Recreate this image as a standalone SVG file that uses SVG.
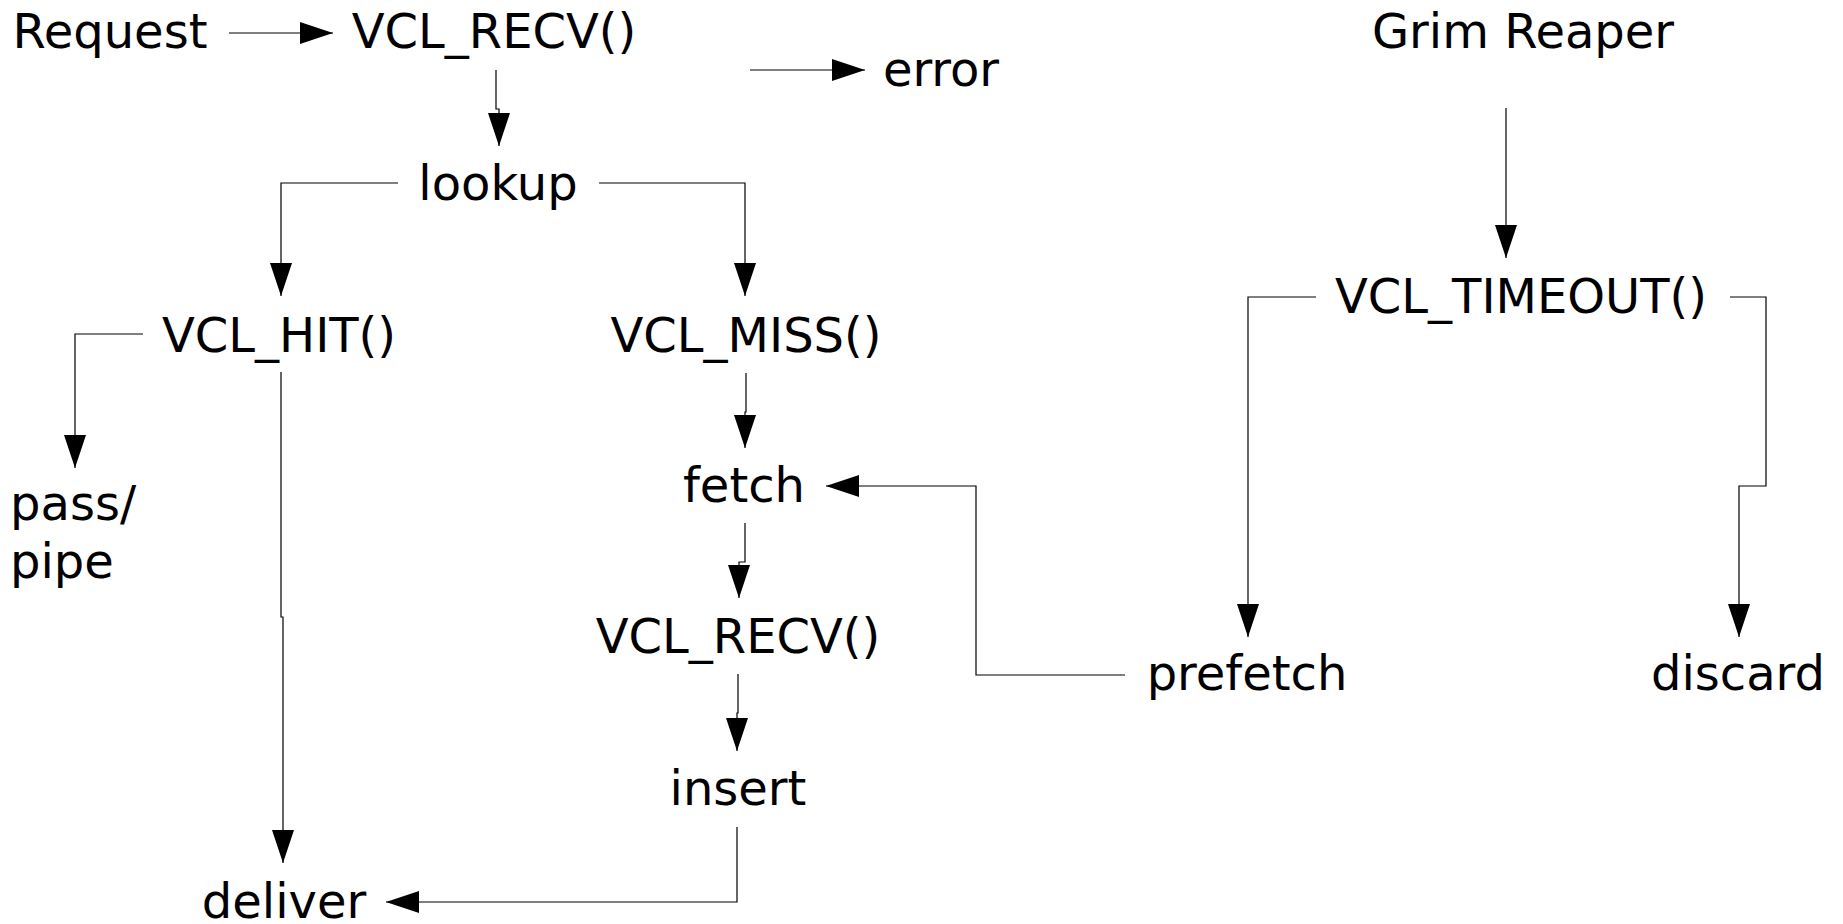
<svg xmlns="http://www.w3.org/2000/svg" width="1843" height="924" viewBox="0 0 1843 924">
<style>
  .lbl { font-family: "DejaVu Sans", "Liberation Sans", sans-serif; font-size: 48px; fill: #000; text-anchor: middle; }
  .start { text-anchor: start; }
  .conn { fill: none; stroke: #000; stroke-width: 1.2; marker-end: url(#arrow); }
</style>
<defs>
  <marker id="arrow" viewBox="0 0 33 22" refX="33" refY="11" markerWidth="33" markerHeight="22" markerUnits="userSpaceOnUse" orient="auto">
    <path d="M0,0 L33,11 L0,22 z" fill="#000"/>
  </marker>
</defs>
<rect width="1843" height="924" fill="#fff"/>
<g id="connectors">
  <path class="conn" d="M229,33 H333"/>
  <path class="conn" d="M750,70 H865"/>
  <path class="conn" d="M496,70 V109 H499 V146"/>
  <path class="conn" d="M398,183 H281 V296"/>
  <path class="conn" d="M599,183 H745 V296"/>
  <path class="conn" d="M143,334 H75 V468"/>
  <path class="conn" d="M281,372 V617 H283 V863"/>
  <path class="conn" d="M746,373 V412 H745 V448"/>
  <path class="conn" d="M745,523 V562 H739 V598"/>
  <path class="conn" d="M738,674 V713 H737 V751"/>
  <path class="conn" d="M737,827 V902 H386"/>
  <path class="conn" d="M1125,675 H976 V486 H826"/>
  <path class="conn" d="M1506,108 V258"/>
  <path class="conn" d="M1316,297 H1248 V637"/>
  <path class="conn" d="M1730,297 H1766 V486 H1739 V637"/>
</g>
<g id="request"><text class="lbl" x="110" y="48">Request</text></g>
<g id="vcl_recv"><text class="lbl" x="494" y="48">VCL_RECV()</text></g>
<g id="error"><text class="lbl" x="941" y="86">error</text></g>
<g id="grim_reaper"><text class="lbl" x="1523" y="48">Grim Reaper</text></g>
<g id="lookup"><text class="lbl" x="498" y="200">lookup</text></g>
<g id="vcl_hit"><text class="lbl" x="279" y="352">VCL_HIT()</text></g>
<g id="vcl_miss"><text class="lbl" x="746" y="352">VCL_MISS()</text></g>
<g id="vcl_timeout"><text class="lbl" x="1521" y="313">VCL_TIMEOUT()</text></g>
<g id="pass_pipe"><text class="lbl start" x="10" y="520">pass/</text><text class="lbl start" x="10" y="578">pipe</text></g>
<g id="fetch"><text class="lbl" x="744" y="502">fetch</text></g>
<g id="vcl_recv2"><text class="lbl" x="738" y="653">VCL_RECV()</text></g>
<g id="prefetch"><text class="lbl" x="1247" y="690">prefetch</text></g>
<g id="discard"><text class="lbl" x="1738" y="690">discard</text></g>
<g id="insert"><text class="lbl" x="738" y="805">insert</text></g>
<g id="deliver"><text class="lbl" x="284" y="918">deliver</text></g>
</svg>
